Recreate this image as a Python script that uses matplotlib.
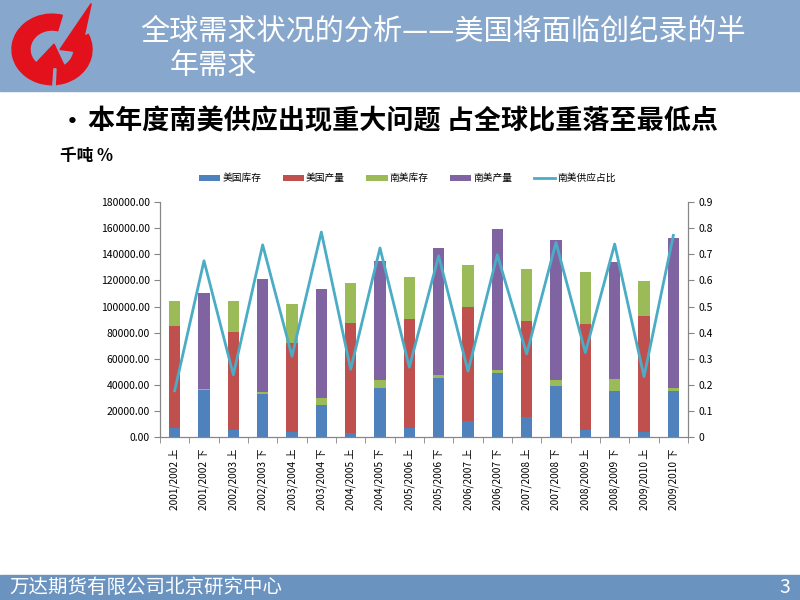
import numpy as np
import matplotlib
matplotlib.use('Agg')
import matplotlib.pyplot as plt
from matplotlib.patches import Rectangle, Wedge, Polygon
from matplotlib.ticker import FixedLocator, FormatStrFormatter

plt.rcParams['font.family'] = ['Noto Sans CJK SC', 'DejaVu Sans']

# Daten
seasons = ['2001/2002', '2002/2003', '2003/2004', '2004/2005', '2005/2006',
           '2006/2007', '2007/2008', '2008/2009', '2009/2010']
halves = ['上', '下']
labels = [s + ' ' + h for s in seasons for h in halves]

us_stock = [7000, 36500, 5600, 33000, 4300, 24600, 3600, 37600, 7400,
            45400, 12700, 49200, 15700, 39100, 5600, 35300, 3800, 35300]
us_prod = [78500, 0, 74800, 0, 67800, 0, 84000, 0, 82700,
           0, 86800, 0, 73100, 0, 80700, 0, 88600, 0]
sa_stock = [19100, 800, 24200, 1500, 29900, 5100, 30400, 6100, 32500,
            2100, 32300, 2600, 39700, 4600, 40100, 9600, 27100, 2500]
sa_prod = [0, 73400, 0, 86500, 0, 84000, 0, 91200, 0,
           97600, 0, 107200, 0, 107300, 0, 89200, 0, 114300]
sa_share = [0.178, 0.675, 0.239, 0.736, 0.31, 0.785, 0.26, 0.724, 0.268,
            0.694, 0.253, 0.698, 0.319, 0.745, 0.324, 0.739, 0.232, 0.772]

series_names = ['美国库存', '美国产量', '南美库存', '南美产量']
colors = ['#4F81BD', '#C0504D', '#9BBB59', '#8064A2']
line_color = '#4BACC6'
header_color = '#88A7CC'

fig = plt.figure(figsize=(8, 6), dpi=100)

# Kopf- und Fußleiste
fig.patches.append(Rectangle((0, 0.848), 1, 0.152, transform=fig.transFigure,
                             color=header_color, zorder=-5))
fig.patches.append(Rectangle((0, 0), 1, 0.042, transform=fig.transFigure,
                             color='#6A93C0', zorder=-5))

fig.text(0.175, 0.948, '全球需求状况的分析——美国将面临创纪录的半', color='white',
         fontsize=21, fontweight='light', va='center', ha='left')
fig.text(0.212, 0.89, '年需求', color='white', fontsize=21, fontweight='light',
         va='center', ha='left')
fig.text(0.075, 0.797, '•', fontsize=18, fontweight='bold', va='center')
fig.text(0.11, 0.797, '本年度南美供应出现重大问题 占全球比重落至最低点',
         fontsize=19.5, fontweight='bold', va='center')
fig.text(0.075, 0.740, '千吨 %', fontsize=12, fontweight='bold', va='center')
fig.text(0.012, 0.021, '万达期货有限公司北京研究中心', color='white', fontsize=14,
         fontweight='light', va='center')
fig.text(0.988, 0.021, '3', color='white', fontsize=14, va='center', ha='right')

# Logo (grob nachgebildet)
lax = fig.add_axes([0.01, 0.85, 0.11, 0.147], zorder=5)
lax.set_xlim(-1.1, 1.1)
lax.set_ylim(-1.15, 1.35)
lax.axis('off')
red = '#E3111B'
lax.add_patch(Wedge((0, 0), 1.0, 75, 385, width=0.45, color=red))
lax.add_patch(Polygon([[0.2, 0.0], [0.98, 1.3], [0.78, 0.25], [0.55, -0.05]],
                      closed=True, color=red))
lax.add_patch(Polygon([[-0.45, -0.45], [0.05, 0.15], [0.3, -0.45], [0.1, -1.0],
                       [0.0, -1.0], [-0.05, -0.55]], closed=True, color=red))
lax.add_patch(Polygon([[0.02, -1.02], [0.08, -1.02], [0.1, -0.55], [0.05, -0.55]],
                      closed=True, color=header_color))

# Diagramm
ax = fig.add_axes([0.2, 0.2712, 0.66, 0.3922])
x = np.arange(len(labels))
width = 0.38
bottom = np.zeros(len(labels))
for name, vals, c in zip(series_names, [us_stock, us_prod, sa_stock, sa_prod], colors):
    ax.bar(x, vals, width, bottom=bottom, color=c, label=name, zorder=2)
    bottom += np.array(vals)

ax.set_xlim(-0.5, len(labels) - 0.5)
ax.set_ylim(0, 180000)
ax.set_yticks(np.arange(0, 180001, 20000))
ax.yaxis.set_major_formatter(FormatStrFormatter('%.2f'))
ax.set_xticks(x)
ax.set_xticklabels(labels, rotation=90, fontsize=7.3)
ax.xaxis.set_minor_locator(FixedLocator(np.arange(-0.5, len(labels), 1)))
ax.tick_params(axis='x', which='major', length=0, pad=8)
ax.tick_params(axis='x', which='minor', length=4, color='#868686')
ax.tick_params(axis='y', labelsize=7.5, length=4, color='#868686')
ax.spines['top'].set_visible(False)
for s in ['left', 'bottom', 'right']:
    ax.spines[s].set_color('#868686')

ax2 = ax.twinx()
ax2.plot(x, sa_share, color=line_color, linewidth=2, label='南美供应占比')
ax2.set_ylim(0, 0.9)
ax2.set_yticks(np.round(np.arange(0, 0.91, 0.1), 1))
ax2.set_yticklabels(['0'] + ['%.1f' % v for v in np.arange(0.1, 0.91, 0.1)])
ax2.tick_params(axis='y', labelsize=7.5, length=4, color='#868686')
ax2.spines['top'].set_visible(False)
for s in ['left', 'bottom', 'right']:
    ax2.spines[s].set_color('#868686')

h1, l1 = ax.get_legend_handles_labels()
h2, l2 = ax2.get_legend_handles_labels()
fig.legend(h1 + h2, l1 + l2, loc='center', bbox_to_anchor=(0.509, 0.703), ncol=5,
           frameon=False, fontsize=7, handlelength=2.2, handleheight=0.5,
           columnspacing=2.2, handletextpad=0.2)

plt.savefig('out.png', dpi=100)
